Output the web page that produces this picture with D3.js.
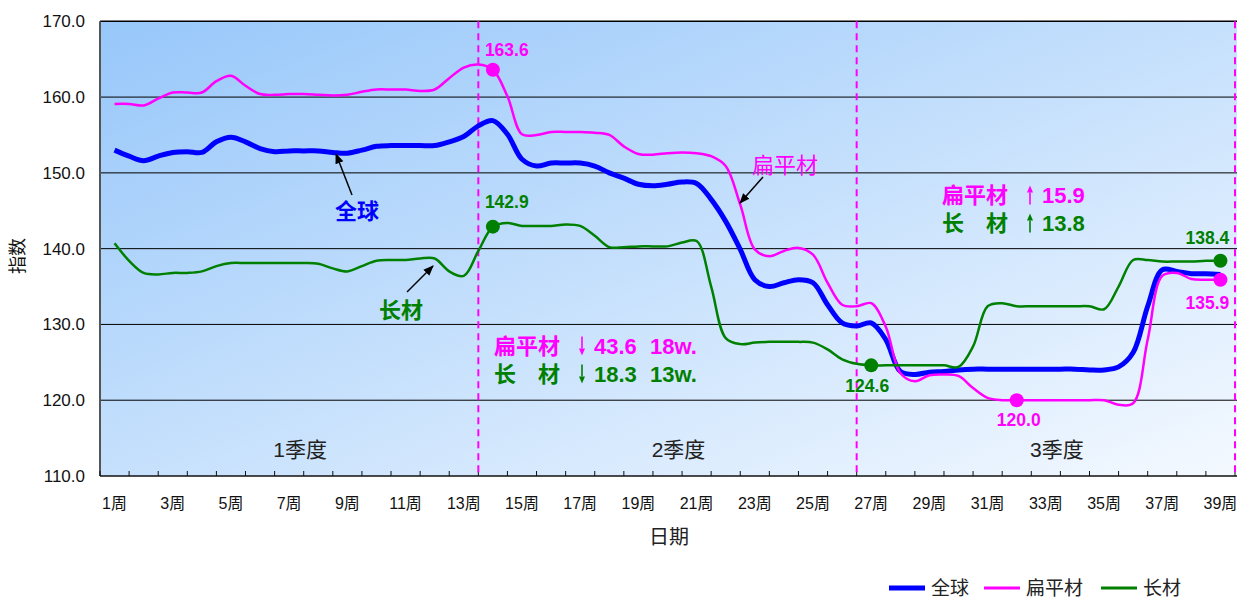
<!DOCTYPE html>
<html>
<head>
<meta charset="utf-8">
<title>指数</title>
<script src="https://d3js.org/d3.v7.min.js"></script>
<style>
  body { margin: 0; background: #fff; overflow: hidden; }
  text { font-family: "Liberation Sans", Arial, "Noto Sans CJK SC", sans-serif; }
</style>
</head>
<body>
<svg width="1237" height="599"></svg>
<script>

// week labels shown on the x axis (every second week)
var weekLabels = ["1周","3周","5周","7周","9周","11周","13周","15周","17周","19周",
                  "21周","23周","25周","27周","29周","31周","33周","35周","37周","39周"];
var quarterNames = ["1季度", "2季度", "3季度"];
var quarterWeeks = [[1, 13], [14, 26], [27, 39]];
var seriesNames = ["全球", "扁平材", "长材"];
var yTicks = [110, 120, 130, 140, 150, 160, 170];

// readings every half week, week 1 .. week 39
var globalIdx = [
  153.0,152.2,151.6,152.2,152.7,152.8,152.7,154.1,154.7,154.1,
  153.2,152.8,152.9,152.9,152.9,152.7,152.6,153.0,153.5,153.6,
  153.6,153.6,153.6,154.1,154.8,156.2,156.9,155.1,151.8,150.9,
  151.3,151.3,151.3,150.9,150.0,149.3,148.5,148.3,148.5,148.8,
  148.6,146.5,143.6,139.9,135.9,135.0,135.5,135.9,135.5,132.6,
  130.2,129.8,130.2,128.0,123.8,123.4,123.7,123.8,124.0,124.1,
  124.1,124.1,124.1,124.1,124.1,124.1,124.1,124.0,124.0,124.4,
  126.3,132.4,137.2,137.0,136.7,136.7,136.6];
var flatIdx = [
  159.1,159.1,158.9,159.8,160.6,160.6,160.6,162.1,162.8,161.5,
  160.4,160.3,160.4,160.4,160.3,160.2,160.3,160.7,161.0,161.0,
  161.0,160.8,161.0,162.5,163.9,164.3,163.6,160.1,155.1,155.0,
  155.4,155.4,155.4,155.3,155.0,153.5,152.5,152.4,152.6,152.7,
  152.6,152.2,150.9,145.8,139.9,139.0,139.7,140.1,139.2,135.5,
  132.6,132.4,132.8,129.7,123.6,122.5,123.3,123.4,123.2,121.6,
  120.3,120.0,120.0,120.0,120.0,120.0,120.0,120.0,120.0,119.4,
  119.6,128.0,136.4,136.8,136.0,135.9,135.9];
var longIdx = [
  140.7,138.4,136.8,136.6,136.8,136.8,137.0,137.7,138.1,138.1,
  138.1,138.1,138.1,138.1,138.0,137.4,137.0,137.7,138.4,138.5,
  138.5,138.7,138.7,137.0,136.4,139.7,142.9,143.4,143.0,143.0,
  143.0,143.2,143.0,141.7,140.2,140.2,140.3,140.3,140.3,140.8,
  141.0,135.0,128.2,127.4,127.6,127.7,127.7,127.7,127.6,126.7,
  125.4,124.8,124.6,124.6,124.6,124.6,124.6,124.6,124.4,127.1,
  132.4,132.8,132.4,132.4,132.4,132.4,132.4,132.4,132.0,135.0,
  138.5,138.5,138.3,138.3,138.3,138.4,138.4];

// highlighted points: series, week
var highlights = [
  {s: 1, week: 14}, {s: 2, week: 14}, {s: 2, week: 27},
  {s: 1, week: 32}, {s: 2, week: 39}, {s: 1, week: 39}
];

var colors = ["#0000ff", "#ff00ff", "#008000"];
var widths = [5, 2.5, 2.5];

var svg = d3.select("svg"),
    width = +svg.attr("width"),
    height = +svg.attr("height");

var plotLeft = 100, plotTop = 21.3, plotBottom = 476;

var x = d3.scaleLinear().domain([0.5, 39.5]).range([plotLeft, 1235]);
var y = d3.scaleLinear().domain([110, 170]).range([plotBottom, plotTop]);

var weeks = globalIdx.map(function(d, i) { return 1 + i * 0.5; });
var series = [globalIdx, flatIdx, longIdx];

var defs = svg.append("defs");
var grad = defs.append("linearGradient")
    .attr("id", "bg")
    .attr("x1", 0).attr("y1", 0).attr("x2", 1).attr("y2", 1);
grad.append("stop").attr("offset", "0%").attr("stop-color", "#97c7fa");
grad.append("stop").attr("offset", "100%").attr("stop-color", "#f4f9ff");

defs.append("marker")
    .attr("id", "arrow")
    .attr("viewBox", "0 0 10 10")
    .attr("refX", 9).attr("refY", 5)
    .attr("markerWidth", 7).attr("markerHeight", 7)
    .attr("orient", "auto")
  .append("path")
    .attr("d", "M0,1 L10,5 L0,9 z")
    .attr("fill", "#000");

// plot area
svg.append("rect")
    .attr("x", plotLeft).attr("y", plotTop)
    .attr("width", width - plotLeft).attr("height", plotBottom - plotTop)
    .attr("fill", "url(#bg)");

// gridlines
svg.append("g").selectAll("line")
  .data(yTicks.slice(1))
  .enter().append("line")
    .attr("x1", plotLeft).attr("x2", width)
    .attr("y1", function(d) { return y(d); })
    .attr("y2", function(d) { return y(d); })
    .attr("stroke", "#000")
    .attr("stroke-width", function(d) { return d == 170 ? 1.5 : 1; });

// y labels
svg.append("g").selectAll("text")
  .data(yTicks)
  .enter().append("text")
    .attr("x", 85)
    .attr("y", function(d) { return y(d) + 6; })
    .attr("text-anchor", "end")
    .attr("font-size", 17)
    .attr("fill", "#111")
    .text(function(d) { return d3.format(".1f")(d); });

svg.append("text")
    .attr("transform", "translate(24,256) rotate(-90)")
    .attr("text-anchor", "middle")
    .attr("font-size", 18)
    .attr("fill", "#111")
    .text("指数");

// axes lines
svg.append("line")
    .attr("x1", plotLeft).attr("x2", plotLeft)
    .attr("y1", plotTop).attr("y2", plotBottom)
    .attr("stroke", "#555").attr("stroke-width", 2);
svg.append("line")
    .attr("x1", plotLeft).attr("x2", width)
    .attr("y1", plotBottom).attr("y2", plotBottom)
    .attr("stroke", "#111").attr("stroke-width", 1.5);

// x ticks at category borders
svg.append("g").selectAll("line")
  .data(d3.range(0.5, 40, 1))
  .enter().append("line")
    .attr("x1", function(d) { return x(d); })
    .attr("x2", function(d) { return x(d); })
    .attr("y1", plotBottom).attr("y2", plotBottom - 5)
    .attr("stroke", "#111");

svg.append("g").selectAll("text")
  .data(weekLabels)
  .enter().append("text")
    .attr("x", function(d) { return x(parseInt(d)); })
    .attr("y", 509)
    .attr("text-anchor", "middle")
    .attr("font-size", 16)
    .attr("fill", "#111")
    .text(function(d) { return d; });

svg.append("text")
    .attr("x", 669).attr("y", 544)
    .attr("text-anchor", "middle")
    .attr("font-size", 20)
    .attr("fill", "#222")
    .text("日期");

// quarter separators and names
svg.append("g").selectAll("line")
  .data(quarterWeeks)
  .enter().append("line")
    .attr("x1", function(d) { return x(d[1] + 0.5); })
    .attr("x2", function(d) { return x(d[1] + 0.5); })
    .attr("y1", plotTop).attr("y2", plotBottom)
    .attr("stroke", "#ff00ff")
    .attr("stroke-width", 2)
    .attr("stroke-dasharray", "7,5");

svg.append("g").selectAll("text")
  .data(quarterNames)
  .enter().append("text")
    .attr("x", function(d, i) { return x((quarterWeeks[i][0] + quarterWeeks[i][1]) / 2) + 11; })
    .attr("y", 457)
    .attr("text-anchor", "middle")
    .attr("font-size", 21)
    .attr("fill", "#222")
    .text(function(d) { return d; });

// lines
var line = d3.line()
    .x(function(d, i) { return x(weeks[i]); })
    .y(function(d) { return y(d); })
    .curve(d3.curveCatmullRom.alpha(0.5));

svg.append("g").selectAll("path")
  .data(series)
  .enter().append("path")
    .attr("fill", "none")
    .attr("stroke", function(d, i) { return colors[i]; })
    .attr("stroke-width", function(d, i) { return widths[i]; })
    .attr("stroke-linejoin", "round")
    .attr("d", line);

// highlighted points
var labelOffsets = [[-8, -20, "start"], [-8, -25, "start"], [-4, 21, "middle"],
                    [2, 20, "middle"], [-13, -23, "middle"], [-13, 23, "middle"]];
var hp = svg.append("g").selectAll("g")
  .data(highlights)
  .enter().append("g")
    .attr("transform", function(d) {
      var v = series[d.s][(d.week - 1) * 2];
      return "translate(" + x(d.week) + "," + y(v) + ")";
    });
hp.append("circle")
    .attr("r", 7)
    .attr("fill", function(d) { return colors[d.s]; });
hp.append("text")
    .attr("x", function(d, i) { return labelOffsets[i][0]; })
    .attr("y", function(d, i) { return labelOffsets[i][1] + 6; })
    .attr("text-anchor", function(d, i) { return labelOffsets[i][2]; })
    .attr("font-size", 17.5)
    .attr("font-weight", "bold")
    .attr("fill", function(d) { return colors[d.s]; })
    .text(function(d) { return d3.format(".1f")(series[d.s][(d.week - 1) * 2]); });

// series callouts
var callouts = [
  {s: 0, text: "全球", tx: 357, ty: 219, weight: "bold", from: [352, 195], to: [336, 154]},
  {s: 1, text: "扁平材", tx: 785, ty: 173, weight: "normal", from: [763, 177], to: [740, 203]},
  {s: 2, text: "长材", tx: 401, ty: 318, weight: "bold", from: [407, 292], to: [433, 266]}
];
callouts.forEach(function(c) {
  svg.append("line")
      .attr("x1", c.from[0]).attr("y1", c.from[1])
      .attr("x2", c.to[0]).attr("y2", c.to[1])
      .attr("stroke", "#000").attr("stroke-width", 1.5)
      .attr("marker-end", "url(#arrow)");
  svg.append("text")
      .attr("x", c.tx).attr("y", c.ty)
      .attr("text-anchor", "middle")
      .attr("font-size", 22)
      .attr("font-weight", c.weight)
      .attr("fill", colors[c.s])
      .text(c.text);
});

// change summaries
var changes = [
  {s: 1, name: "扁平材", dir: -1, val: 43.6, wk: "18w.", x0: 494, yc: 346},
  {s: 2, name: "长　材", dir: -1, val: 18.3, wk: "13w.", x0: 494, yc: 374},
  {s: 1, name: "扁平材", dir: 1, val: 15.9, wk: "", x0: 942, yc: 195},
  {s: 2, name: "长　材", dir: 1, val: 13.8, wk: "", x0: 942, yc: 223}
];
changes.forEach(function(c) {
  var col = colors[c.s];
  var t = svg.append("text")
      .attr("y", c.yc + 8)
      .attr("font-size", 22)
      .attr("font-weight", "bold")
      .attr("fill", col);
  t.append("tspan").attr("x", c.x0).text(c.name);
  t.append("tspan").attr("x", c.x0 + 100).text(d3.format(".1f")(c.val));
  if (c.wk) t.append("tspan").attr("x", c.x0 + 156).text(c.wk);
  var ax = c.x0 + 88, y0 = c.yc - 9.5, y1 = c.yc + 9.5;
  var head = c.dir < 0 ? y1 : y0;
  var base = c.dir < 0 ? y1 - 7 : y0 + 7;
  svg.append("line")
      .attr("x1", ax).attr("x2", ax)
      .attr("y1", c.dir < 0 ? y0 : base).attr("y2", c.dir < 0 ? base : y1)
      .attr("stroke", col).attr("stroke-width", 1.6);
  svg.append("path")
      .attr("d", "M" + (ax - 3) + "," + base + " L" + ax + "," + head + " L" + (ax + 3) + "," + base + " z")
      .attr("fill", col);
});

// legend
var legend = svg.append("g").selectAll("g")
  .data(seriesNames)
  .enter().append("g")
    .attr("transform", function(d, i) { return "translate(" + [889, 984, 1101][i] + ",0)"; });
legend.append("line")
    .attr("x1", 0).attr("x2", 36)
    .attr("y1", 588).attr("y2", 588)
    .attr("stroke", function(d, i) { return colors[i]; })
    .attr("stroke-width", function(d, i) { return i == 0 ? 5 : 3; });
legend.append("text")
    .attr("x", 42).attr("y", 595)
    .attr("font-size", 19)
    .attr("fill", "#222")
    .text(function(d) { return d; });

</script>
</body>
</html>
